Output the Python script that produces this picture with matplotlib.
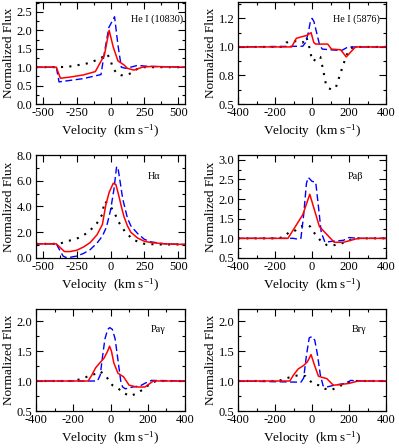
import matplotlib
matplotlib.use('Agg')
import matplotlib.pyplot as plt
from matplotlib.ticker import MultipleLocator

plt.rcParams['font.family'] = ['Liberation Serif', 'DejaVu Serif']
plt.rcParams['mathtext.fontset'] = 'custom'
plt.rcParams['mathtext.rm'] = 'Liberation Serif'
plt.rcParams['mathtext.it'] = 'Liberation Serif:italic'
plt.rcParams['axes.unicode_minus'] = False

#%% data (velocity in km/s, normalized flux)

# He I 10830
hei10830_red_v = [-550, -400, -370, -300, -200, -112, -45, -10, 0, 20, 55, 100, 124, 174, 236, 300, 550]
hei10830_red_f = [1.0, 1.0, 0.70, 0.73, 0.79, 0.88, 1.33, 2.0, 1.85, 1.55, 1.17, 1.06, 0.97, 0.92, 1.0, 1.02, 1.0]
hei10830_blue_v = [-550, -400, -380, -200, -70, -45, -12, 30, 55, 80, 110, 150, 200, 250, 300, 550]
hei10830_blue_f = [1.0, 1.0, 0.60, 0.69, 0.80, 1.4, 2.08, 2.37, 1.6, 1.0, 0.97, 1.0, 1.05, 1.03, 1.02, 1.0]
hei10830_black_v = [-550, -380, -300, -200, -150, -100, -50, -25, 0, 15, 45, 80, 120, 160, 200, 250, 550]
hei10830_black_f = [1.0, 1.0, 1.02, 1.08, 1.12, 1.2, 1.29, 1.36, 1.2, 1.0, 0.83, 0.78, 0.79, 0.85, 0.96, 1.0, 1.0]

# He I 5876
hei5876_red_v = [-400, -110, -85, -60, -30, -5, 10, 20, 85, 105, 155, 185, 235, 400]
hei5876_red_f = [1.0, 1.0, 1.06, 1.07, 1.08, 1.10, 1.03, 1.02, 1.02, 0.985, 0.98, 0.93, 1.0, 1.0]
hei5876_blue_v = [-400, -50, -35, -20, -10, 0, 10, 25, 40, 55, 100, 160, 195, 400]
hei5876_blue_f = [1.0, 1.005, 1.03, 1.10, 1.17, 1.20, 1.18, 1.10, 1.02, 0.985, 0.98, 0.975, 1.0, 1.0]
hei5876_black_v = [-400, -160, -140, -110, -75, -50, -30, -15, 0, 10, 25, 45, 60, 75, 90, 110, 130, 150, 170, 190, 210, 230, 400]
hei5876_black_f = [1.0, 1.0, 1.03, 1.04, 1.04, 1.03, 1.07, 1.0, 0.91, 0.90, 0.93, 0.93, 0.84, 0.74, 0.71, 0.70, 0.72, 0.80, 0.88, 0.95, 0.99, 1.0, 1.0]

# H alpha
ha_red_v = [-550, -400, -380, -340, -300, -250, -200, -150, -100, -60, -35, -10, 20, 40, 60, 80, 100, 125, 150, 200, 250, 300, 400, 550]
ha_red_f = [1.1, 1.1, 0.9, 0.5, 0.5, 0.6, 0.85, 1.2, 1.8, 2.6, 4.1, 5.1, 5.8, 5.7, 4.9, 4.0, 3.2, 2.5, 2.0, 1.55, 1.3, 1.2, 1.1, 1.05]
ha_blue_v = [-550, -400, -385, -350, -330, -300, -250, -200, -150, -100, -60, -30, 0, 25, 45, 55, 70, 90, 125, 150, 200, 250, 300, 400, 550]
ha_blue_f = [1.1, 1.1, 0.8, 0.15, 0.05, 0.05, 0.15, 0.35, 0.65, 1.15, 1.7, 2.4, 3.7, 5.3, 7.1, 7.0, 6.0, 4.6, 3.1, 2.5, 1.9, 1.45, 1.25, 1.1, 1.05]
ha_black_v = [-550, -380, -320, -250, -200, -150, -100, -60, -45, -30, 0, 25, 60, 110, 170, 250, 350, 550]
ha_black_f = [1.1, 1.1, 1.3, 1.5, 1.75, 2.15, 2.7, 3.4, 4.4, 4.3, 4.0, 3.6, 2.8, 2.0, 1.4, 1.1, 1.05, 1.05]

# Pa beta
pab_red_v = [-400, -130, -50, -12, 40, 120, 170, 250, 400]
pab_red_f = [1.0, 1.0, 1.6, 2.12, 1.3, 0.9, 0.9, 1.0, 1.0]
pab_blue_v = [-400, -100, -80, -60, -45, -30, -20, 0, 20, 35, 50, 70, 100, 170, 200, 250, 400]
pab_blue_f = [1.0, 1.0, 0.98, 1.0, 1.6, 2.4, 2.55, 2.45, 2.43, 1.8, 1.15, 0.9, 0.92, 0.95, 1.02, 1.0, 1.0]
pab_black_v = [-400, -180, -150, -120, -90, -65, -25, -10, 15, 50, 80, 110, 150, 185, 220, 250, 400]
pab_black_f = [1.0, 1.0, 1.05, 1.17, 1.2, 1.3, 1.34, 1.3, 1.12, 0.92, 0.83, 0.82, 0.85, 0.92, 0.98, 1.0, 1.0]

# Pa gamma
pag_red_v = [-400, -120, -100, -80, -55, -35, -15, -5, 5, 18, 40, 70, 100, 140, 185, 230, 400]
pag_red_f = [1.0, 1.0, 1.1, 1.22, 1.31, 1.38, 1.5, 1.58, 1.5, 1.3, 1.13, 1.07, 0.93, 0.9, 0.9, 1.0, 1.0]
pag_blue_v = [-400, -70, -55, -44, -30, -15, -4, 10, 25, 40, 55, 65, 80, 120, 160, 190, 220, 400]
pag_blue_f = [1.0, 1.0, 1.1, 1.38, 1.7, 1.86, 1.89, 1.86, 1.7, 1.35, 1.0, 0.9, 0.87, 0.9, 0.92, 0.97, 1.01, 1.0]
pag_black_v = [-400, -200, -150, -120, -80, -55, -30, -10, 10, 40, 70, 105, 140, 180, 215, 245, 400]
pag_black_f = [1.0, 1.0, 1.04, 1.08, 1.12, 1.16, 1.1, 1.02, 0.93, 0.88, 0.8, 0.75, 0.79, 0.87, 0.96, 1.0, 1.0]

# Br gamma
brg_red_v = [-400, -120, -100, -75, -45, -25, -5, 15, 35, 55, 80, 115, 150, 200, 250, 400]
brg_red_f = [1.0, 1.0, 1.1, 1.2, 1.26, 1.32, 1.44, 1.25, 1.08, 1.06, 1.04, 0.93, 0.94, 0.96, 1.0, 1.0]
brg_blue_v = [-400, -60, -45, -30, -15, 0, 15, 30, 45, 60, 80, 120, 180, 210, 250, 400]
brg_blue_f = [1.0, 0.98, 1.05, 1.43, 1.72, 1.74, 1.68, 1.43, 1.1, 0.92, 0.9, 0.93, 0.96, 1.01, 1.0, 1.0]
brg_black_v = [-400, -180, -155, -100, -65, -35, -10, 10, 35, 70, 105, 140, 180, 220, 400]
brg_black_f = [1.0, 1.0, 1.03, 1.08, 1.1, 1.08, 1.0, 0.95, 0.93, 0.87, 0.85, 0.9, 0.96, 1.0, 1.0]

#%% figure

W, H = 399, 448
fig = plt.figure(figsize=(W / 100, H / 100), dpi=100)

def make_axes(x0, y0, x1, y1):
    # pixel box -> figure fraction
    return fig.add_axes([x0 / W, 1 - y1 / H, (x1 - x0) / W, (y1 - y0) / H])

def style(ax, xlim, xmaj, xmin, ylim, ymaj, ymin, label, lx, ly, ylabel='Normalized Flux'):
    ax.set_xlim(xlim)
    ax.set_ylim(ylim)
    ax.xaxis.set_major_locator(MultipleLocator(xmaj))
    ax.xaxis.set_minor_locator(MultipleLocator(xmin))
    ax.yaxis.set_major_locator(MultipleLocator(ymaj))
    ax.yaxis.set_minor_locator(MultipleLocator(ymin))
    ax.tick_params(which='both', direction='in', top=True, right=True, labelsize=9, pad=2.5)
    ax.tick_params(which='major', length=5, width=0.8)
    ax.tick_params(which='minor', length=2.5, width=0.8)
    for s in ax.spines.values():
        s.set_linewidth(0.9)
    ax.set_ylabel(ylabel, fontsize=9.5, labelpad=1)
    ax.set_xlabel('Velocity  (km s$^{-1}$)', fontsize=9.5, labelpad=2)
    ax.text(lx, ly, label, transform=ax.transAxes, ha='left', va='center', fontsize=7.3)

def draw(ax, rv, rf, bv, bf, kv, kf):
    ax.plot(kv, kf, color='black', linestyle=(0, (1, 3)), linewidth=1.5, dash_capstyle='butt')
    ax.plot(bv, bf, color='#0000ff', linestyle=(0, (5, 2.5)), linewidth=1.0)
    ax.plot(rv, rf, color='#ff0000', linestyle='-', linewidth=1.1)

ax1 = make_axes(36, 2, 185, 104)
draw(ax1, hei10830_red_v, hei10830_red_f, hei10830_blue_v, hei10830_blue_f, hei10830_black_v, hei10830_black_f)
style(ax1, (-550, 550), 250, 125, (0, 2.77), 0.5, 0.25, 'He I (10830)', 0.64, 0.83)
ax1.yaxis.set_major_formatter('{x:.1f}')

ax2 = make_axes(238, 2, 386, 104)
draw(ax2, hei5876_red_v, hei5876_red_f, hei5876_blue_v, hei5876_blue_f, hei5876_black_v, hei5876_black_f)
style(ax2, (-400, 400), 200, 100, (0.6, 1.315), 0.2, 0.1, 'He I (5876)', 0.64, 0.83, ylabel='Normalzied Flux')
ax2.set_yticks([0.6, 0.8, 1.0, 1.2], labels=['0.5', '0.8', '1.0', '1.2'])

ax3 = make_axes(36, 155, 185, 258)
draw(ax3, ha_red_v, ha_red_f, ha_blue_v, ha_blue_f, ha_black_v, ha_black_f)
style(ax3, (-550, 550), 250, 125, (0, 8.0), 2.0, 1.0, 'H\u03b1', 0.75, 0.79)
ax3.yaxis.set_major_formatter('{x:.1f}')

ax4 = make_axes(238, 155, 386, 258)
draw(ax4, pab_red_v, pab_red_f, pab_blue_v, pab_blue_f, pab_black_v, pab_black_f)
style(ax4, (-400, 400), 200, 100, (0.5, 3.12), 0.5, 0.25, 'Pa\u03b2', 0.74, 0.79)
ax4.yaxis.set_major_formatter('{x:.1f}')

ax5 = make_axes(36, 309, 185, 411)
draw(ax5, pag_red_v, pag_red_f, pag_blue_v, pag_blue_f, pag_black_v, pag_black_f)
style(ax5, (-400, 400), 200, 100, (0.5, 2.2), 0.5, 0.25, 'Pa\u03b3', 0.77, 0.80)
ax5.yaxis.set_major_formatter('{x:.1f}')

ax6 = make_axes(238, 309, 386, 411)
draw(ax6, brg_red_v, brg_red_f, brg_blue_v, brg_blue_f, brg_black_v, brg_black_f)
style(ax6, (-400, 400), 200, 100, (0.5, 2.2), 0.5, 0.25, 'Br\u03b3', 0.77, 0.80)
ax6.yaxis.set_major_formatter('{x:.1f}')

fig.savefig('out.png', dpi=100)
